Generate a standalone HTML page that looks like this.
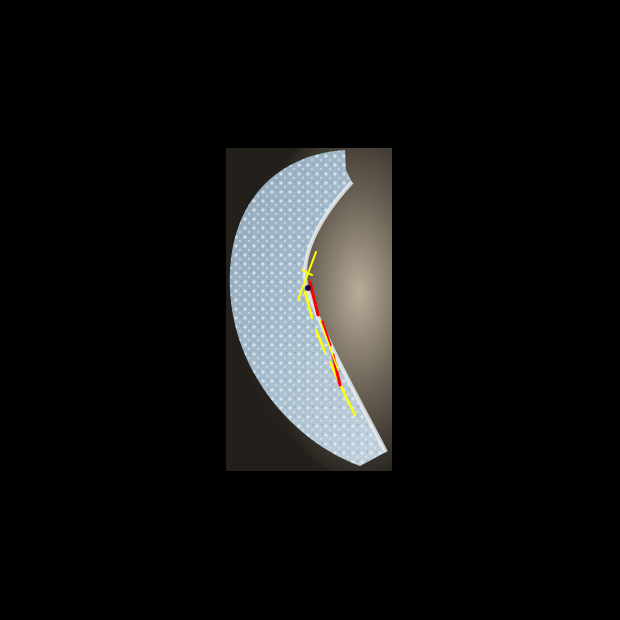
<!DOCTYPE html>
<html>
<head>
<meta charset="utf-8">
<style>
html,body{margin:0;padding:0;background:#000;width:620px;height:620px;overflow:hidden}
svg{display:block}
</style>
</head>
<body>
<svg width="620" height="620" viewBox="0 0 620 620">
  <defs>
    <radialGradient id="bg" cx="0.8" cy="0.45" r="0.6">
      <stop offset="0" stop-color="#b8ad9a"/>
      <stop offset="0.5" stop-color="#6a6255"/>
      <stop offset="1" stop-color="#25221d"/>
    </radialGradient>
    <linearGradient id="cres" x1="0" y1="0" x2="1" y2="1">
      <stop offset="0" stop-color="#90a8bc"/>
      <stop offset="0.5" stop-color="#a8bece"/>
      <stop offset="1" stop-color="#c4d3de"/>
    </linearGradient>
    <pattern id="tex" width="9" height="9" patternUnits="userSpaceOnUse">
      <rect width="9" height="9" fill="none"/>
      <circle cx="2" cy="3" r="1.6" fill="#eef4f8" opacity="0.7"/>
      <circle cx="6" cy="7" r="1.2" fill="#dfe9f0" opacity="0.6"/>
      <circle cx="7" cy="2" r="0.9" fill="#6f879b" opacity="0.5"/>
    </pattern>
  </defs>
  <rect x="0" y="0" width="620" height="620" fill="#000"/>
  <rect x="226" y="148" width="166" height="323" fill="url(#bg)"/>
  <path d="M226,148 H300 C250,180 228,240 232,300 C236,380 280,440 330,471 H226 Z" fill="#231f1a" opacity="0.8"/>
  <path d="M345,150 C270,155 226,210 230,290 C234,370 290,440 360,466 L386,452 C362,405 322,335 306,285 C300,252 322,215 352,182 L346,170 Z" fill="url(#cres)"/>
  <path d="M345,150 C270,155 226,210 230,290 C234,370 290,440 360,466 L386,452 C362,405 322,335 306,285 C300,252 322,215 352,182 L346,170 Z" fill="url(#tex)"/>
  <path d="M352,182 C322,215 300,252 306,285 C322,335 362,405 386,452" fill="none" stroke="#eef3f6" stroke-width="4" opacity="0.8"/>
  <g fill="none" stroke-linecap="round">
    <path d="M316,252 L298,300" stroke="#ffff00" stroke-width="2"/>
    <path d="M305,292 L312,318 M316,330 L325,352 M330,362 L345,395 L355,415" stroke="#ffff00" stroke-width="2.5"/>
    <path d="M310,282 L318,315 M322,322 L330,345 M333,355 L340,385" stroke="#ff0000" stroke-width="3"/>
    <path d="M302,270 L312,275" stroke="#ffff00" stroke-width="2"/>
    <path d="M320,320 L338,370" stroke="#ffff00" stroke-width="1.5"/>
    <circle cx="308" cy="288" r="3" fill="#200030"/>
  </g>
</svg>
</body>
</html>
